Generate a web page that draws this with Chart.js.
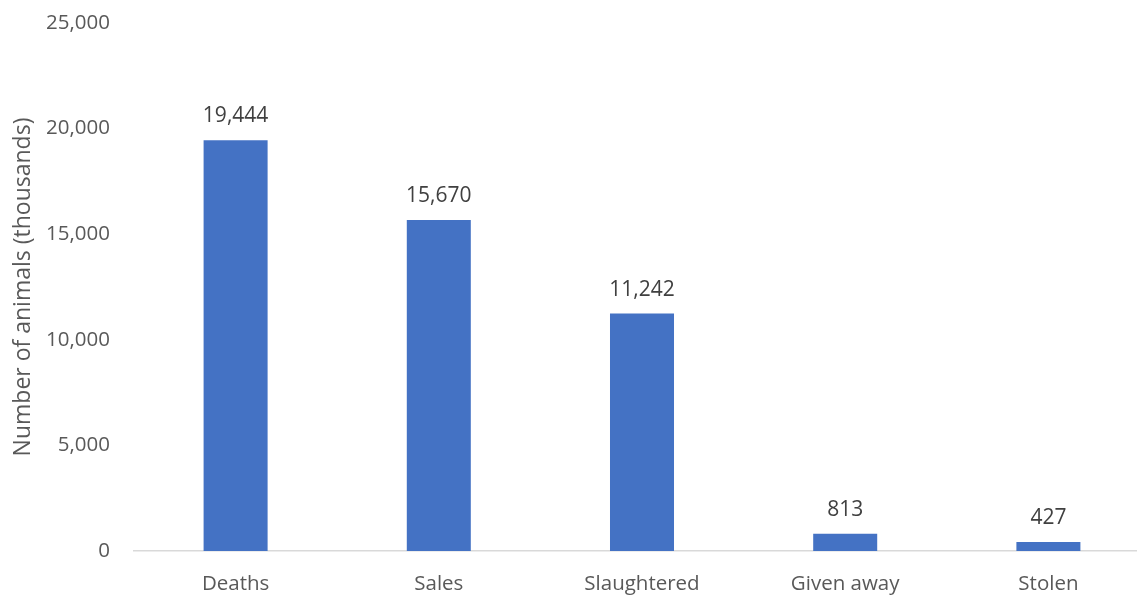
<!DOCTYPE html>
<html>
<head>
<meta charset="utf-8">
<script src="https://cdn.jsdelivr.net/npm/chart.js@4"></script>
<style>
  html, body { margin: 0; padding: 0; background: #ffffff; overflow: hidden; }
  #wrap { width: 1150px; height: 595px; position: relative; }
</style>
</head>
<body>
<div id="wrap"><canvas id="c"></canvas></div>
<script>
const categories = ["Deaths", "Sales", "Slaughtered", "Given away", "Stolen"];
const animals = [19444, 15670, 11242, 813, 427];
const yTicks = [0, 5000, 10000, 15000, 20000, 25000];
const yTitle = "Number of animals (thousands)";

const FONT = "'Open Sans', 'Noto Sans', sans-serif";

const dataLabels = {
  id: 'dataLabels',
  afterDatasetsDraw(chart) {
    const ctx = chart.ctx;
    const meta = chart.getDatasetMeta(0);
    ctx.save();
    ctx.font = "21px " + FONT;
    ctx.fillStyle = "#404040";
    ctx.textAlign = "center";
    ctx.textBaseline = "alphabetic";
    meta.data.forEach((bar, i) => {
      ctx.fillText(animals[i].toLocaleString('en-US'), bar.x, bar.y - 18);
    });
    ctx.restore();
  }
};

new Chart(document.getElementById('c'), {
  type: 'bar',
  data: {
    labels: categories,
    datasets: [{
      data: animals,
      backgroundColor: '#4472C4',
      borderWidth: 0,
      categoryPercentage: 1,
      barPercentage: 0.315
    }]
  },
  options: {
    responsive: true,
    maintainAspectRatio: false,
    animation: false,
    layout: { padding: { top: 23, right: 0, left: 0, bottom: 0 } },
    plugins: { legend: { display: false }, tooltip: { enabled: false } },
    scales: {
      x: {
        grid: { display: false, drawTicks: false },
        border: { display: true, color: '#d9d9d9', width: 1.5 },
        ticks: { color: '#595959', font: { family: FONT, size: 20.5 }, padding: 21, maxRotation: 0 },
        afterFit(scale) { scale.height = 44; scale.paddingLeft = 0; scale.paddingRight = 0; }
      },
      y: {
        min: 0, max: 25000,
        afterBuildTicks(scale) { scale.ticks = yTicks.map(v => ({ value: v })); },
        grid: { display: false, drawTicks: false },
        border: { display: false },
        ticks: {
          color: '#595959', font: { family: FONT, size: 20.5 }, padding: 24,
          callback: v => Number(v).toLocaleString('en-US')
        },
        title: {
          display: true, text: yTitle, color: '#595959',
          font: { family: FONT, size: 23 }, padding: { top: 10, bottom: 0 }
        },
        afterFit(scale) { scale.width = 134; scale.paddingTop = 0; scale.paddingBottom = 0; }
      }
    }
  },
  plugins: [dataLabels]
});
</script>
</body>
</html>
